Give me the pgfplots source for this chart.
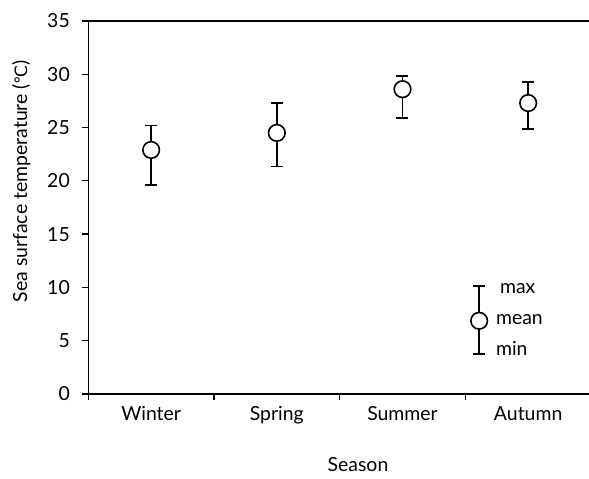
\documentclass[border=0pt]{standalone}
\usepackage{fontspec}
\setmainfont{Lato}
\newfontfamily\dejavu{DejaVu Sans}
\usepackage{pgfplots}
\pgfplotsset{compat=1.18}
\pgfplotstableread{
x mean plus minus
0 22.9 2.3 3.3
1 24.5 2.8 3.15
2 28.6 1.25 2.7
3 27.3 1.95 2.45
}\seasons
\pgfplotstableread{
x mean plus minus
2.61 6.87 3.28 3.12
}\legendbar
\begin{document}
\begin{tikzpicture}[x=1bp,y=1bp]
\path[use as bounding box] (0,0) rectangle (589,479);
\begin{axis}[
  at={(88.3bp,85bp)}, anchor=south west,
  scale only axis, width=502.7bp, height=373bp,
  xmin=-0.5, xmax=3.5, ymin=0, ymax=35,
  axis x line*=box, axis y line*=left,
  axis line style={line width=1.5bp, black},
  xtick={0,1,2,3}, xticklabels={Winter,Spring,Summer,Autumn},
  minor xtick={-0.5,0.5,1.5,2.5},
  major x tick style={draw=none},
  xtick pos=bottom,
  ytick={0,5,...,35}, ytick pos=left,
  tick align=outside,
  major tick length=6bp, minor tick length=6bp,
  every tick/.style={black, line width=1.3bp},
  tick label style={font=\fontsize{19.5}{22}\selectfont},
  /pgf/number format/assume math mode=true,
  xticklabel style={yshift=-3bp},
  yticklabel style={xshift=-9bp},
  xlabel={Season},
  xlabel style={font=\fontsize{19.5}{22}\selectfont, at={(ticklabel cs:0.5365)}, yshift=-29bp, inner sep=1bp},
  ylabel={Sea surface temperature ({\dejavu\fontsize{17}{20}\selectfont ℃})},
  ylabel style={font=\fontsize{19.5}{22}\selectfont, at={(ticklabel cs:0.571)}, yshift=10bp},
  clip=false,
]
\addplot[only marks, mark=*, mark size=8.3bp,
  mark options={fill=white, draw=black, line width=1.6bp},
  error bars/.cd, y dir=both, y explicit,
  error bar style={line width=1.7bp, draw=black, solid},
  error mark options={rotate=90, mark size=6bp, line width=1.7bp, draw=black}]
  table[x=x, y=mean, y error plus=plus, y error minus=minus] {\seasons};
\addplot[only marks, mark=*, mark size=8.3bp,
  mark options={fill=white, draw=black, line width=1.6bp},
  error bars/.cd, y dir=both, y explicit,
  error bar style={line width=1.7bp, draw=black, solid},
  error mark options={rotate=90, mark size=6bp, line width=1.7bp, draw=black}]
  table[x=x, y=mean, y error plus=plus, y error minus=minus] {\legendbar};
\node[anchor=west, inner sep=0pt, font=\fontsize{19.5}{22}\selectfont] at (axis cs:2.775,9.9) {max};
\node[anchor=west, inner sep=0pt, font=\fontsize{19.5}{22}\selectfont] at (axis cs:2.743,7.0) {mean};
\node[anchor=west, inner sep=0pt, font=\fontsize{19.5}{22}\selectfont] at (axis cs:2.743,4.3) {min};
\end{axis}
\end{tikzpicture}
\end{document}
